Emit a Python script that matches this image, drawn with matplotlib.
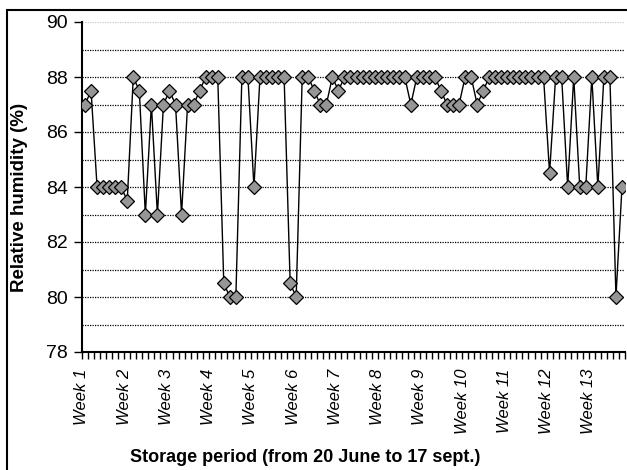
import matplotlib.pyplot as plt
from matplotlib.patches import Rectangle

# daily relative humidity readings, 20 June -> 17 Sept
rh = [87, 87.5, 84, 84, 84, 84, 84, 83.5, 88, 87.5,
      83, 87, 83, 87, 87.5, 87, 83, 87, 87, 87.5,
      88, 88, 88, 80.5, 80, 80, 88, 88, 84, 88,
      88, 88, 88, 88, 80.5, 80, 88, 88, 87.5, 87,
      87, 88, 87.5, 88, 88, 88, 88, 88, 88, 88,
      88, 88, 88, 88, 87, 88, 88, 88, 88, 87.5,
      87, 87, 87, 88, 88, 87, 87.5, 88, 88, 88,
      88, 88, 88, 88, 88, 88, 88, 84.5, 88, 88,
      84, 88, 84, 84, 88, 84, 88, 88, 80, 84]
weeks = ['Week %d' % i for i in range(1, 14)]

narrow = ['Liberation Sans Narrow', 'Liberation Sans', 'DejaVu Sans']
arial = ['Liberation Sans', 'DejaVu Sans']

fig = plt.figure(figsize=(6.27, 4.70), dpi=100)
ax = fig.add_axes([82/627, 1 - 352/470, 543/627, 330/470])

x = [i + 0.5 for i in range(len(rh))]
ax.plot(x, rh, color='black', lw=1, marker='D', ms=6.8,
        mfc='#969696', mec='black', mew=0.9, zorder=3)

ax.set_xlim(0, len(rh))
ax.set_ylim(78, 90)

ax.set_yticks(range(78, 91, 2))
for v in range(79, 90):
    ax.axhline(v, color='black', lw=0.9, ls=(0, (1, 1)), zorder=1)
ax.axhline(90, color='#c8c8c8', lw=0.9, ls=(0, (1, 1)), zorder=1)

xt = list(range(len(rh) + 1))
labels = [''] * len(xt)
for k, w in enumerate(weeks):
    labels[7 * k] = w
ax.set_xticks(xt)
ax.set_xticklabels(labels, rotation=90, fontstyle='italic', family=arial,
                   fontsize=12, ha='center', va='top')
ax.tick_params(axis='x', direction='out', length=5, width=1, pad=7)
ax.tick_params(axis='y', direction='out', length=6, width=1, pad=4)
for t in ax.get_yticklabels():
    t.set_family(narrow)
    t.set_fontsize(14)

for s in ['top', 'right']:
    ax.spines[s].set_visible(False)
for s in ['left', 'bottom']:
    ax.spines[s].set_linewidth(1.5)

ax.set_ylabel('Relative humidity (%)', family=arial, fontweight='bold',
              fontsize=13.5)
ax.yaxis.set_label_coords(-0.1, 0.467)
fig.text(305/627, 1 - 458/470, 'Storage period (from 20 June to 17 sept.)',
         family=arial, fontweight='bold', fontsize=13, ha='center', va='center')

# chart area frame
fig.patches.append(Rectangle((7/627, -0.1), 1.0, 1 - 10/470 + 0.1,
                             transform=fig.transFigure, fill=False,
                             ec='black', lw=1.5))

fig.savefig('out.png', dpi=100)
